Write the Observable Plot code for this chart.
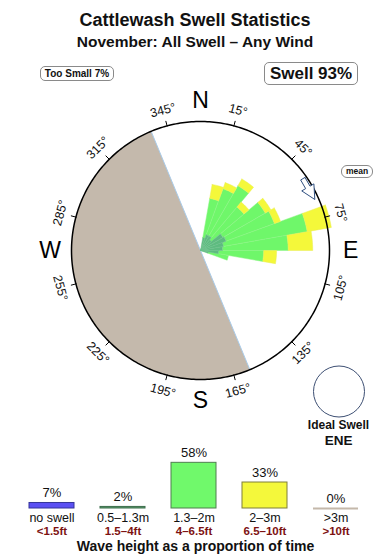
<!DOCTYPE html>
<html><head><meta charset="utf-8">
<script src="https://cdn.jsdelivr.net/npm/d3@7"></script>
<script src="https://cdn.jsdelivr.net/npm/@observablehq/plot@0.6"></script>
<style>
body{margin:0;background:#fff;font-family:"Liberation Sans",Arial,Helvetica,sans-serif;}
#wrap{position:relative;width:390px;height:560px;overflow:hidden;background:#fff;}
.t{position:absolute;left:0;width:390px;text-align:center;font-weight:bold;color:#111;white-space:nowrap;}
.box{position:absolute;border:1px solid #8a8a8a;border-radius:5px;text-align:center;font-weight:bold;color:#111;box-sizing:border-box;white-space:nowrap;}
#rose,#legend{position:absolute;left:0;}
</style></head><body>
<div id="wrap">
 <div class="t" style="top:11px;font-size:18px;line-height:18px">Cattlewash Swell Statistics</div>
 <div class="t" style="top:34px;font-size:15.5px;line-height:15.5px">November: All Swell – Any Wind</div>
 <div id="rose" style="top:55px"></div>
 <div id="legend" style="top:450px"></div>
 <div class="box" id="toosmall" style="left:40px;top:66px;width:74px;height:15px;font-size:10px;line-height:13px"></div>
 <div class="box" id="swell" style="left:264px;top:62px;width:94px;height:23px;font-size:17px;line-height:21px"></div>
 <div class="box" style="left:341px;top:165px;width:32px;height:13px;font-size:8.5px;line-height:11px;border-radius:6px">mean</div>
</div>
<script>
// ---------- data ----------
const directions = [15, 25, 35, 45, 55, 65, 75, 85, 95, 105];   // bin centres (deg)
const binWidth = 10;
const freqSmall  = [1.0, 1.3, 1.3, 1.1, 2.0, 2.1, 1.8, 1.7, 1.4, 0.6]; // 0.5–1.3m
const freqMedium = [3.1, 3.8, 4.5, 3.3, 3.8, 4.0, 6.6, 5.1, 3.5, 1.6]; // 1.3–2m
const freqLarge  = [1.1, 0.5, 0.6, 0.5, 0.5, 0.5, 1.9, 1.9, 1.0, 0.0]; // 2–3m
const meanDirection = 60;
const landFrom = 157.5, landTo = 337.5;
const tickBearings = [15, 45, 75, 105, 135, 165, 195, 225, 255, 285, 315, 345];
const compassLabels = ["N", "E", "S", "W"];
const compassBearings = [0, 90, 180, 270];
const heightCats = ["no swell", "0.5–1.3m", "1.3–2m", "2–3m", ">3m"];
const heightFeet = ["<1.5ft", "1.5–4ft", "4–6.5ft", "6.5–10ft", ">10ft"];
const heightPct = [7, 2, 58, 33, 0];
const tooSmallPct = 7, swellPct = 93;
const idealSwell = "ENE";

// ---------- styles ----------
const legendFill = ["#5b50f3", "#5a9c6c", "#70f96b", "#f4f83b", "#c4b8aa"];
const legendStroke = ["#35359a", "#3d6e4c", "#4f7f4f", "#7f7f3a", "#b7ab9d"];
const font = "Liberation Sans, Arial, Helvetica, sans-serif";

document.getElementById("toosmall").textContent = `Too Small ${tooSmallPct}%`;
document.getElementById("swell").textContent = `Swell ${swellPct}%`;

// ---------- rose ----------
const R = 10, PX = 12.9, ROSE_H = 395;
const rad = b => b * Math.PI / 180;
const pol = (b, r) => ({x: r * Math.sin(rad(b)), y: r * Math.cos(rad(b))});
function sector(id, b0, b1, r0, r1) {
  const pts = [];
  const n = Math.max(2, Math.ceil(Math.abs(b1 - b0)));
  for (let i = 0; i <= n; i++) pts.push({id, ...pol(b0 + (b1 - b0) * i / n, r1)});
  if (r0 > 0) for (let i = n; i >= 0; i--) pts.push({id, ...pol(b0 + (b1 - b0) * i / n, r0)});
  else pts.push({id, x: 0, y: 0});
  pts.push({...pts[0]});
  return pts;
}
const segS = [], segM = [], segL = [];
directions.forEach((d, i) => {
  const a = freqSmall[i], b = a + freqMedium[i], c = b + freqLarge[i];
  const b0 = d - binWidth / 2, b1 = d + binWidth / 2;
  segS.push(...sector("s" + i, b0, b1, 0, a));
  if (freqMedium[i] > 0) segM.push(...sector("m" + i, b0, b1, a, b));
  if (freqLarge[i] > 0) segL.push(...sector("l" + i, b0, b1, b, c));
});
const land = sector("land", landFrom, landTo, 0, R);
const circle = d3.range(0, 361, 1).map(b => pol(b, R));
const coast = [{a: pol(landTo, R), b: pol(landFrom, R)}];

const arrowShape = [[-11,-2.5],[-1,-2.5],[-1,-7],[13,0],[-1,7],[-1,2.5],[-11,2.5],[-11,-2.5]];
const arrowDir = meanDirection + 90;
const ac = pol(meanDirection, 124.5 / PX);
const ux = Math.sin(rad(arrowDir)), uy = Math.cos(rad(arrowDir));
const vx = Math.cos(rad(arrowDir)), vy = -Math.sin(rad(arrowDir));
const arrow = arrowShape.map(([u, v]) => ({x: ac.x + (u * ux + v * vx) / PX, y: ac.y + (u * uy + v * vy) / PX}));

const compass = compassLabels.map((l, i) => ({label: l, b: compassBearings[i]}));

const rose = Plot.plot({
  width: 390, height: ROSE_H,
  marginTop: 0, marginRight: 0, marginBottom: 0, marginLeft: 0,
  x: {domain: [-200 / PX, 190 / PX], axis: null},
  y: {domain: [-(ROSE_H - 195) / PX, 195 / PX], axis: null},
  style: {fontFamily: font, background: "transparent", color: "#111", overflow: "visible"},
  marks: [
    Plot.line(land, {x: "x", y: "y", z: "id", fill: "#c4b9ac", stroke: "none"}),
    Plot.link(coast, {x1: d => d.a.x, y1: d => d.a.y, x2: d => d.b.x, y2: d => d.b.y, stroke: "#a9cbe9", strokeWidth: 1}),
    Plot.line(segM, {x: "x", y: "y", z: "id", fill: "#6ff76a", stroke: "#8cf585", strokeWidth: 0.5}),
    Plot.line(segL, {x: "x", y: "y", z: "id", fill: "#f4f83a", stroke: "#e9ec55", strokeWidth: 0.5}),
    Plot.line(segS, {x: "x", y: "y", z: "id", fill: "#5ebb80", stroke: "#6cc08a", strokeWidth: 0.5}),
    Plot.line(circle, {x: "x", y: "y", stroke: "#000", strokeWidth: 1.5}),
    Plot.link(tickBearings, {x1: b => pol(b, 9.95).x, y1: b => pol(b, 9.95).y, x2: b => pol(b, 10.4).x, y2: b => pol(b, 10.4).y, stroke: "#000", strokeWidth: 1}),
    Plot.text(tickBearings, {x: b => pol(b, 11.25).x, y: b => pol(b, 11.25).y, text: b => b + "°", rotate: b => ((b + 90) % 180) - 90, fontSize: 12.5, fill: "#111"}),
    Plot.text(compass, {x: d => pol(d.b, 11.65).x, y: d => pol(d.b, 11.65).y, text: "label", fontSize: 23, fill: "#000"}),
    Plot.line(arrow, {x: "x", y: "y", fill: "white", stroke: "#2f4f7f", strokeWidth: 1}),
    Plot.dot([idealSwell], {frameAnchor: "bottom-right", dx: -51.5, dy: -59, r: 25.5, stroke: "#3d4f73", strokeWidth: 1, fill: "white"}),
    Plot.text(["Ideal Swell"], {frameAnchor: "bottom-right", dx: -52, dy: -25, textAnchor: "middle", lineAnchor: "middle", fontWeight: "bold", fontSize: 12, fill: "#111"}),
    Plot.text([idealSwell], {frameAnchor: "bottom-right", dx: -52, dy: -10, textAnchor: "middle", lineAnchor: "middle", fontWeight: "bold", fontSize: 13.5, fill: "#111"})
  ]
});
document.getElementById("rose").append(rose);

// ---------- legend ----------
const legendData = heightCats.map((c, i) => ({cat: c, ft: heightFeet[i], pct: heightPct[i], i}));
const legend = Plot.plot({
  width: 390, height: 110,
  marginTop: 0, marginRight: 0, marginBottom: 0, marginLeft: 0,
  x: {type: "band", domain: heightCats, range: [15, 371], paddingInner: 0.368, paddingOuter: 0.184, axis: null},
  y: {domain: [0, 80], range: [58, -5], axis: null},
  style: {fontFamily: font, background: "transparent", color: "#111", overflow: "visible"},
  marks: [
    Plot.barY(legendData.filter(d => d.pct > 0), {x: "cat", y: "pct", fill: d => legendFill[d.i], stroke: d => legendStroke[d.i], strokeWidth: 1}),
    Plot.tickY(legendData.filter(d => d.pct === 0), {x: "cat", y: 0, stroke: d => legendFill[d.i], strokeWidth: 2}),
    Plot.text(legendData, {x: "cat", y: "pct", text: d => d.pct + "%", dy: -10, fontSize: 13, lineAnchor: "middle", fill: "#111"}),
    Plot.text(legendData, {x: "cat", y: 0, text: "cat", dy: 9.5, fontSize: 12.5, lineAnchor: "middle", fill: "#111"}),
    Plot.text(legendData, {x: "cat", y: 0, text: "ft", dy: 22.5, fontSize: 11.5, fontWeight: "bold", lineAnchor: "middle", fill: "#7d1212"}),
    Plot.text(["Wave height as a proportion of time"], {frameAnchor: "bottom", dy: -14, lineAnchor: "middle", fontWeight: "bold", fontSize: 14, fill: "#111"})
  ]
});
document.getElementById("legend").append(legend);
</script>
</body></html>
